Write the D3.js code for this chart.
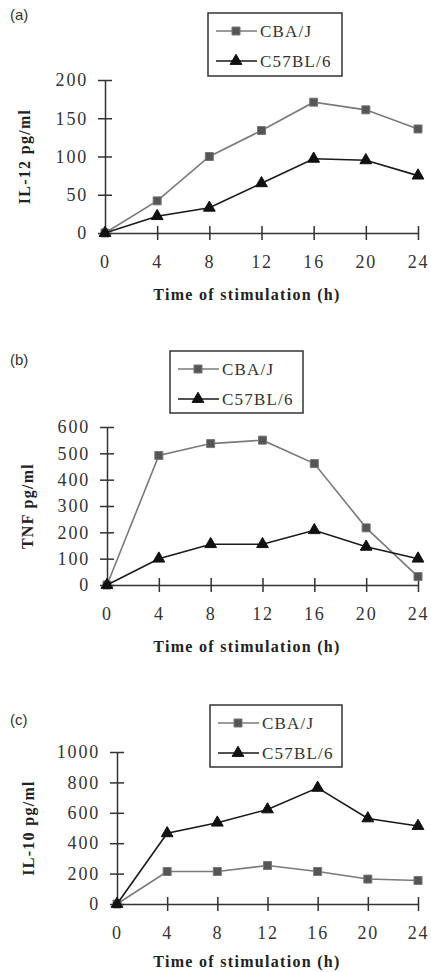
<!DOCTYPE html>
<html>
<head>
<meta charset="utf-8">
<script src="https://cdn.jsdelivr.net/npm/d3@7"></script>
<style>
	body { margin: 0; background: #fff; }
</style>
</head>
<body>
<script>
// time points (h)
const hours = [0, 4, 8, 12, 16, 20, 24];
const seriesNames = ['CBA/J', 'C57BL/6'];

// (a) IL-12
const il12Cba = [0, 42, 100, 134, 171, 161, 136];
const il12B6 = [0, 22, 33, 65, 97, 95, 75];
const il12Ticks = [0, 50, 100, 150, 200];

// (b) TNF
const tnfCba = [0, 492, 537, 550, 461, 217, 32];
const tnfB6 = [0, 100, 155, 155, 208, 145, 100];
const tnfTicks = [0, 100, 200, 300, 400, 500, 600];

// (c) IL-10
const il10Cba = [0, 214, 214, 253, 214, 164, 155];
const il10B6 = [0, 465, 535, 622, 764, 563, 513];
const il10Ticks = [0, 200, 400, 600, 800, 1000];

const serif = "'Liberation Serif', 'Times New Roman', serif";

const panels = [
	{ label: '(a)', ytitle: 'IL-12 pg/ml', cba: il12Cba, b6: il12B6, ticks: il12Ticks,
		x0: 105, x1: 418, y0: 233, y1: 80, labelY: 15, ytx: 25, xty: 295, legend: [208, 13, 134, 63] },
	{ label: '(b)', ytitle: 'TNF pg/ml', cba: tnfCba, b6: tnfB6, ticks: tnfTicks,
		x0: 107, x1: 418, y0: 585, y1: 427, labelY: 360, ytx: 28, xty: 647, legend: [170, 351, 133, 62] },
	{ label: '(c)', ytitle: 'IL-10 pg/ml', cba: il10Cba, b6: il10B6, ticks: il10Ticks,
		x0: 117, x1: 418, y0: 904, y1: 752, labelY: 720, ytx: 29, xty: 962, legend: [210, 705, 132, 62] }
];

const svg = d3.select('body').append('svg')
	.attr('width', 431)
	.attr('height', 972);

const styles = [
	{ line: '#7a7a7a', fill: '#555', stroke: '#777', shape: d3.symbolSquare, size: 64 },
	{ line: '#1a1a1a', fill: '#111', stroke: '#111', shape: d3.symbolTriangle, size: 60 }
];

const tickText = sel => sel
	.style('font-family', serif)
	.style('font-size', '18px')
	.style('letter-spacing', '1.8px')
	.attr('fill', '#333');

panels.forEach(p => {
	const g = svg.append('g');
	const x = d3.scaleLinear().domain([0, 24]).range([p.x0, p.x1]);
	const y = d3.scaleLinear().domain([0, d3.max(p.ticks)]).range([p.y0, p.y1]);

	// y axis, ticks crossing the line
	const ya = g.append('g')
		.attr('transform', `translate(${p.x0},0)`)
		.call(d3.axisLeft(y).tickValues(p.ticks).tickFormat(d3.format('d'))
			.tickSize(7).tickSizeOuter(0).tickPadding(10));
	ya.select('.domain').attr('stroke', '#333').attr('stroke-width', 1.5);
	ya.selectAll('.tick line').attr('x1', 7).attr('stroke', '#333').attr('stroke-width', 1.5);
	ya.selectAll('.tick text').call(tickText);

	// x axis
	const xa = g.append('g')
		.attr('transform', `translate(0,${p.y0})`)
		.call(d3.axisBottom(x).tickValues(hours).tickSize(7).tickSizeOuter(0).tickPadding(15));
	xa.select('.domain').attr('stroke', '#333').attr('stroke-width', 1.5);
	xa.selectAll('.tick line').attr('y1', -7).attr('stroke', '#333').attr('stroke-width', 1.5);
	xa.selectAll('.tick').filter(d => d === 0).select('line').remove();
	xa.selectAll('.tick text').call(tickText);

	g.append('text')
		.attr('x', 10)
		.attr('y', p.labelY + 5)
		.style('font-family', "'Liberation Sans', Arial, sans-serif")
		.style('font-size', '15px')
		.attr('fill', '#333')
		.text(p.label);

	g.append('text')
		.attr('text-anchor', 'middle')
		.attr('transform', `translate(${p.ytx + 5},${(p.y0 + p.y1) / 2}) rotate(-90)`)
		.style('font-family', serif)
		.style('font-weight', 'bold')
		.style('font-size', '16px')
		.style('letter-spacing', '1.3px')
		.attr('fill', '#222')
		.text(p.ytitle);

	g.append('text')
		.attr('text-anchor', 'middle')
		.attr('x', 247)
		.attr('y', p.xty + 5)
		.style('font-family', serif)
		.style('font-weight', 'bold')
		.style('font-size', '16px')
		.style('letter-spacing', '1.3px')
		.attr('fill', '#222')
		.text('Time of stimulation (h)');

	const line = d3.line()
		.x((d, i) => x(hours[i]))
		.y(d => y(d));

	[p.cba, p.b6].forEach((vals, k) => {
		const st = styles[k];
		g.append('path')
			.datum(vals)
			.attr('fill', 'none')
			.attr('stroke', st.line)
			.attr('stroke-width', 1.6)
			.attr('d', line);
		g.selectAll(null)
			.data(vals)
			.enter()
			.append('path')
			.attr('d', d3.symbol().type(st.shape).size(st.size))
			.attr('transform', (d, i) => `translate(${x(hours[i])},${y(d)})`)
			.attr('fill', st.fill)
			.attr('stroke', st.stroke)
			.attr('stroke-width', 1);
	});

	// legend box
	const [lx, ly, lw, lh] = p.legend;
	const lg = g.append('g');
	lg.append('rect')
		.attr('x', lx).attr('y', ly)
		.attr('width', lw).attr('height', lh)
		.attr('fill', '#fff')
		.attr('stroke', '#333')
		.attr('stroke-width', 1.5);
	seriesNames.forEach((name, k) => {
		const st = styles[k];
		const cy = ly + 18 + k * 30;
		lg.append('line')
			.attr('x1', lx + 8).attr('x2', lx + 49)
			.attr('y1', cy).attr('y2', cy)
			.attr('stroke', st.line)
			.attr('stroke-width', 1.6);
		lg.append('path')
			.attr('d', d3.symbol().type(st.shape).size(st.size))
			.attr('transform', `translate(${lx + 28},${cy})`)
			.attr('fill', st.fill)
			.attr('stroke', st.stroke);
		lg.append('text')
			.attr('x', lx + 52)
			.attr('y', cy + 6)
			.style('font-family', serif)
			.style('font-size', '17px')
			.style('letter-spacing', '1.2px')
			.attr('fill', '#333')
			.text(name);
	});
});
</script>
</body>
</html>
